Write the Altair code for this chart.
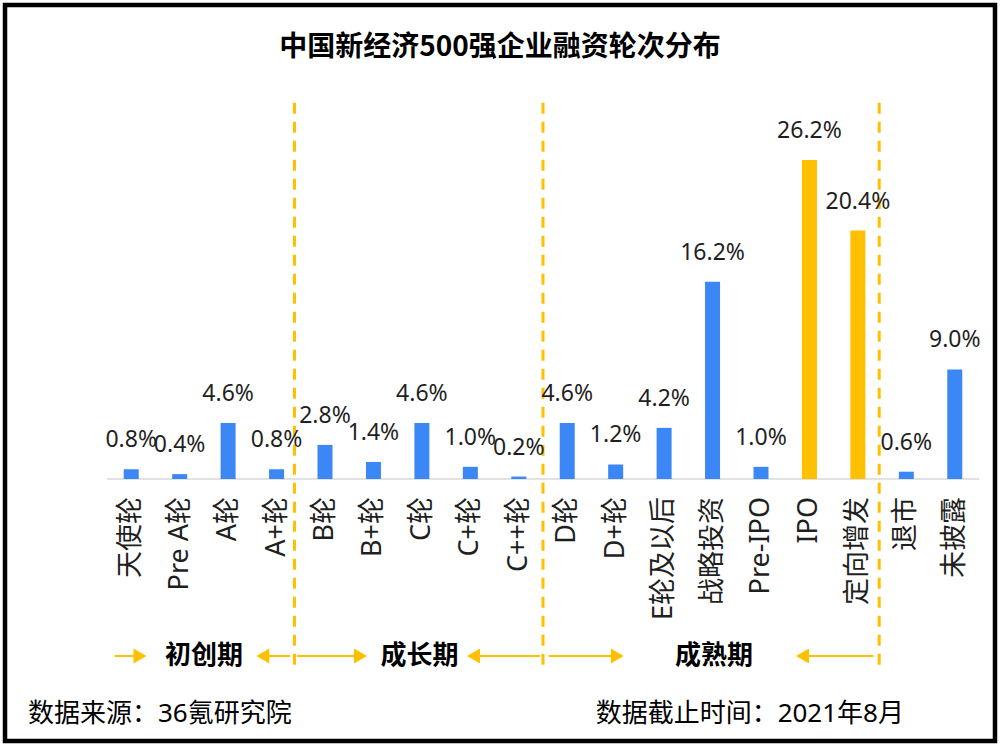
import altair as alt
import pandas as pd

# ---- data ----
categories = ["天使轮", "Pre A轮", "A轮", "A+轮", "B轮", "B+轮", "C轮", "C+轮", "C++轮",
              "D轮", "D+轮", "E轮及以后", "战略投资", "Pre-IPO", "IPO", "定向增发", "退市", "未披露"]
shares = [0.8, 0.4, 4.6, 0.8, 2.8, 1.4, 4.6, 1.0, 0.2,
          4.6, 1.2, 4.2, 16.2, 1.0, 26.2, 20.4, 0.6, 9.0]
highlighted = ["IPO", "定向增发"]

phase_names = ["初创期", "成长期", "成熟期"]
phase_centers = [2.0, 6.45, 12.53]          # in category units
divider_positions = [3.87, 9.0, 15.94]       # in category units
arrow_tails = [0.163, 3.78, 3.92, 8.94, 9.12, 15.82]
arrow_tips = [0.857, 3.04, 5.41, 7.39, 10.71, 14.18]

title_text = "中国新经济500强企业融资轮次分布"
source_text = "数据来源：36氪研究院"
date_text = "数据截止时间：2021年8月"

# ---- styling ----
BLUE = "#3A87F5"
GOLD = "#FFC000"
TEXT = "#1F1F1F"
FONT = "'Noto Sans', 'Noto Sans CJK SC', sans-serif"
CJK = "'Noto Sans CJK SC', sans-serif"

W, H = 882, 568
x_scale = alt.Scale(domain=[0, len(categories)], nice=False, zero=False)
y_scale = alt.Scale(domain=[-15.517, 31.117], nice=False, zero=False)
phase_y = -14.53

df = pd.DataFrame({
    "cat": categories,
    "val": shares,
    "pos": [i + 0.5 for i in range(len(categories))],
    "label": [f"{v:.1f}%" for v in shares],
    "kind": ["上市" if c in highlighted else "一级" for c in categories],
})

X = alt.X("pos:Q", scale=x_scale, axis=None)

bars = alt.Chart(df).mark_bar(size=15).encode(
    x=X,
    y=alt.Y("val:Q", scale=y_scale, axis=None),
    y2=alt.datum(0),
    color=alt.Color("kind:N", scale=alt.Scale(domain=["一级", "上市"], range=[BLUE, GOLD]), legend=None),
)

value_labels = alt.Chart(df).mark_text(
    dy=-22, baseline="alphabetic", align="center", fontSize=23, font=FONT, color=TEXT
).encode(x=X, y=alt.Y("val:Q", scale=y_scale, axis=None), text="label:N")

cat_labels = alt.Chart(df).mark_text(
    angle=270, align="right", baseline="middle", dx=-18, fontSize=27, font=FONT, color=TEXT
).encode(x=X, y=alt.datum(0), text="cat:N")

baseline = alt.Chart(pd.DataFrame({"a": [0], "b": [len(categories)], "y": [0]})).mark_rule(
    color="#D9D9D9", strokeWidth=1.5
).encode(x=alt.X("a:Q", scale=x_scale, axis=None), x2="b:Q", y=alt.Y("y:Q", scale=y_scale, axis=None))

div_df = pd.DataFrame({"x": divider_positions, "y1": [30.9] * 3, "y2": [-15.43] * 3})
dividers = alt.Chart(div_df).mark_rule(color=GOLD, strokeWidth=3, strokeDash=[11, 8]).encode(
    x=alt.X("x:Q", scale=x_scale, axis=None),
    y=alt.Y("y1:Q", scale=y_scale, axis=None),
    y2="y2:Q",
)

head_offset = 8.66 / 49.0
arr_df = pd.DataFrame({
    "tail": arrow_tails,
    "tip": arrow_tips,
    "dir": ["right" if t > s else "left" for s, t in zip(arrow_tails, arrow_tips)],
})
arr_df["head"] = [t - head_offset if d == "right" else t + head_offset
                  for t, d in zip(arr_df["tip"], arr_df["dir"])]

arrow_lines = alt.Chart(arr_df).mark_rule(color=GOLD, strokeWidth=2).encode(
    x=alt.X("tail:Q", scale=x_scale, axis=None), x2="head:Q", y=alt.datum(phase_y)
)
arrow_heads = alt.Chart(arr_df).mark_point(filled=True, size=225, opacity=1, color=GOLD, strokeWidth=0).encode(
    x=alt.X("head:Q", scale=x_scale, axis=None),
    y=alt.datum(phase_y),
    shape=alt.Shape("dir:N", scale=alt.Scale(domain=["right", "left"], range=["triangle-right", "triangle-left"]), legend=None),
)

phase_df = pd.DataFrame({"name": phase_names, "pos": phase_centers})
phase_text = alt.Chart(phase_df).mark_text(
    fontSize=26, fontWeight="bold", font=CJK, color="#000000", baseline="middle"
).encode(x=alt.X("pos:Q", scale=x_scale, axis=None), y=alt.datum(phase_y), text="name:N")

title = alt.Chart(pd.DataFrame({"t": [title_text]})).mark_text(
    fontSize=28, fontWeight="bold", font=CJK, color="#000000", align="center", baseline="middle"
).encode(x=alt.value(500 - 102), y=alt.value(48 - 100), text="t:N")

source = alt.Chart(pd.DataFrame({"t": [source_text]})).mark_text(
    fontSize=26, font=FONT, color="#000000", align="left", baseline="middle"
).encode(x=alt.value(28 - 102), y=alt.value(714 - 100), text="t:N")

date = alt.Chart(pd.DataFrame({"t": [date_text]})).mark_text(
    fontSize=26, font=FONT, color="#000000", align="right", baseline="middle"
).encode(x=alt.value(904 - 102), y=alt.value(714 - 100), text="t:N")

border = alt.Chart(pd.DataFrame({"t": [0]})).mark_rect(
    fillOpacity=0, stroke="#000000", strokeWidth=4.5
).encode(x=alt.value(5 - 102), x2=alt.value(995 - 102), y=alt.value(5 - 100), y2=alt.value(741 - 100))

chart = alt.layer(
    baseline, dividers, bars, value_labels, cat_labels,
    arrow_lines, arrow_heads, phase_text, title, source, date, border
).properties(
    width=W, height=H,
    autosize=alt.AutoSizeParams(type="none"),
    padding={"left": 102, "top": 100, "right": 1000 - 102 - W, "bottom": 750 - 100 - H},
    background="white",
).configure_view(stroke=None)

chart.save("out.html", embed_options={"renderer": "svg", "actions": False})
